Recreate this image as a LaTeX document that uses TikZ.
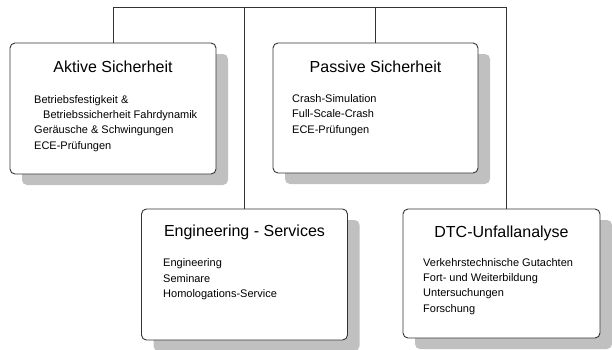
\documentclass[tikz,border=0pt]{standalone}
\usepackage{fontspec}
\setmainfont{Liberation Sans}
\usetikzlibrary{shadows}
\definecolor{lineC}{HTML}{333333}
\definecolor{shadowC}{HTML}{C0C0C0}
\begin{document}
\begin{tikzpicture}[x=1pt,y=-1pt,
  boxnode/.style={draw=lineC, line width=0.9pt, fill=white, rounded corners=5pt, inner sep=0pt,
    drop shadow={shadow xshift=12pt, shadow yshift=-11pt, fill=shadowC, opacity=1}},
  titletext/.style={anchor=base, inner sep=0pt, font=\fontsize{16}{19}\selectfont},
  bodytext/.style={anchor=base west, inner sep=0pt, align=left, font=\fontsize{11}{15.4}\selectfont},
  conn/.style={draw=lineC, line width=0.9pt}]
\useasboundingbox (0,0) rectangle (612,349);
% connectors first (behind boxes)
\coordinate (busL) at (113,7);
\coordinate (busR) at (506,7);
\node[boxnode, minimum width=206pt, minimum height=131pt] (a) at (113,108.5) {};
\node[boxnode, minimum width=205pt, minimum height=130pt] (p) at (375.5,108) {};
\node[boxnode, minimum width=206pt, minimum height=131pt] (e) at (244.5,274.5) {};
\node[boxnode, minimum width=197pt, minimum height=129pt] (d) at (501.5,273.5) {};
\draw[conn] (busL) -- (busR);
\draw[conn] (a.north) -- (a.north |- busL);
\draw[conn] (p.north) -- (p.north |- busL);
\draw[conn] (e.north) -- (e.north |- busL);
\draw[conn] (d.north -| busR) -- (busR);
% titles
\node[titletext] (ta) at (113,72.5) {Aktive Sicherheit};
\node[titletext] (tp) at (375.5,72.5) {Passive Sicherheit};
\node[titletext] (te) at (244.5,236) {Engineering - Services};
\node[titletext] (td) at (501.5,237) {DTC-Unfallanalyse};
% bodies
\node[bodytext] (ba1) at (34,103) {Betriebsfestigkeit \&};
\node[bodytext] (ba2) at (43,118.4) {Betriebssicherheit Fahrdynamik};
\node[bodytext] (ba3) at (34,133.8) {Geräusche \& Schwingungen};
\node[bodytext] (ba4) at (34,149.2) {ECE-Prüfungen};
\node[bodytext] (bp1) at (292,102.5) {Crash-Simulation};
\node[bodytext] (bp2) at (292,117.9) {Full-Scale-Crash};
\node[bodytext] (bp3) at (292,133.3) {ECE-Prüfungen};
\node[bodytext] (be1) at (163,266.5) {Engineering};
\node[bodytext] (be2) at (163,282) {Seminare};
\node[bodytext] (be3) at (163,297.5) {Homologations-Service};
\node[bodytext] (bd1) at (423,266) {Verkehrstechnische Gutachten};
\node[bodytext] (bd2) at (423,281.4) {Fort- und Weiterbildung};
\node[bodytext] (bd3) at (423,296.8) {Untersuchungen};
\node[bodytext] (bd4) at (423,312.2) {Forschung};
\end{tikzpicture}
\end{document}
